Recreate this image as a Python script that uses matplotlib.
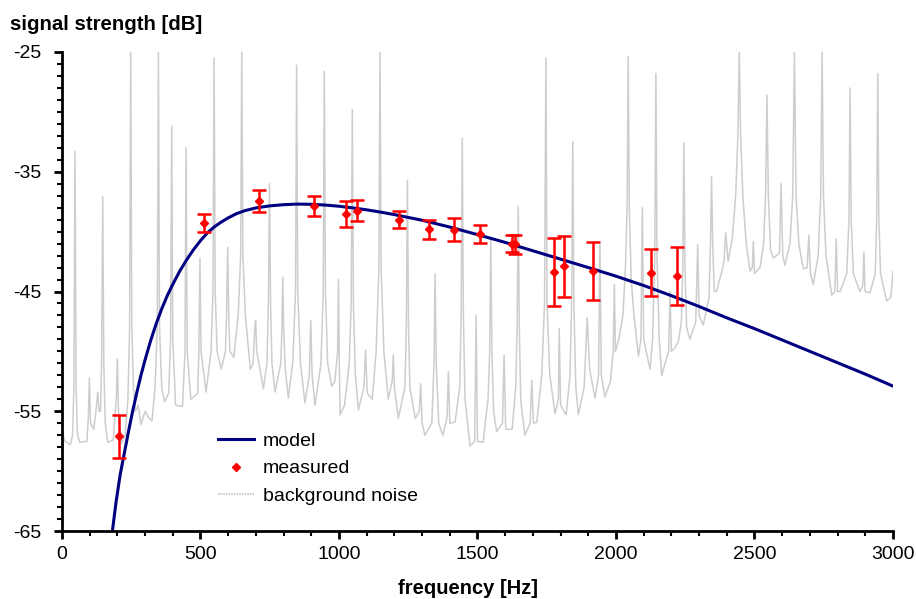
import numpy as np
import matplotlib
matplotlib.use("Agg")
import matplotlib.pyplot as plt
from matplotlib.ticker import MultipleLocator
from matplotlib.lines import Line2D

plt.rcParams['font.family'] = ['Liberation Sans', 'DejaVu Sans']
plt.rcParams['axes.unicode_minus'] = False

# measured points (frequency, level, error)
meas_f = [207, 512, 711, 911, 1026, 1064, 1215, 1324, 1415, 1508, 1623, 1636,
          1777, 1813, 1918, 2127, 2221]
meas_db = [-57.1, -39.3, -37.45, -37.85, -38.55, -38.25, -39.0, -39.8, -39.85,
           -40.2, -41.0, -41.05, -43.35, -42.9, -43.3, -43.45, -43.7]
meas_err = [1.8, 0.75, 0.9, 0.85, 1.08, 0.88, 0.7, 0.8, 0.95, 0.73, 0.73, 0.8,
            2.84, 2.53, 2.42, 1.96, 2.4]

# model curve
model_f = [182, 195, 210, 225, 240, 255, 270, 285, 300, 320, 340, 360, 380, 400,
           425, 450, 475, 500, 525, 550, 575, 600, 630, 660, 700, 750, 800, 850,
           900, 950, 1000, 1050, 1100, 1150, 1200, 1300, 1400, 1500, 1600, 1700,
           1800, 1900, 2000, 2100, 2200, 2300, 2400, 2500, 2600, 2700, 2800, 2900, 3000]
model_db = [-65.0, -62.6, -60.3, -58.5, -56.7, -55.0, -53.45, -52.0, -50.7, -49.1,
            -47.7, -46.45, -45.35, -44.4, -43.3, -42.35, -41.5, -40.75, -40.1,
            -39.6, -39.2, -38.85, -38.5, -38.25, -38.02, -37.85, -37.75, -37.7,
            -37.72, -37.78, -37.88, -38.02, -38.18, -38.37, -38.58, -39.05, -39.62,
            -40.25, -40.9, -41.6, -42.3, -43.0, -43.72, -44.5, -45.35, -46.25,
            -47.2, -48.1, -49.05, -50.0, -50.95, -51.9, -52.9]

# background noise spectrum (frequency, level)
noise_pts = [
    (0, -56.5), (10, -57.5), (30, -57.8), (38, -57), (43, -53), (47, -33.3), (51, -53),
    (56, -57), (65, -57.6), (90, -57.5), (95, -55.5), (99, -52.2), (103, -56), (115, -56.5),
    (125, -54.5), (129, -53.4), (134, -55), (139, -55), (143, -51), (147, -37.1), (151, -51),
    (156, -56), (165, -57.6), (185, -57.4), (196, -54), (200, -50.6), (204, -55), (215, -57.7),
    (228, -57), (238, -54), (244, -48), (248, -25), (252, -48), (258, -53), (265, -55),
    (275, -54.5), (285, -56.1), (300, -55), (312, -55.5), (325, -55.8), (336, -53), (344, -48),
    (348, -25), (352, -48), (360, -53), (370, -54.2), (385, -53.5), (392, -49), (396, -31.2),
    (400, -49), (410, -54.5), (435, -54.6), (444, -50), (448, -33.0), (452, -50), (465, -54),
    (490, -53.5), (494, -50), (498, -42.2), (502, -50), (520, -53.4), (538, -50), (545, -45),
    (549, -25.5), (553, -45), (560, -50), (575, -51.5), (590, -50), (594, -47), (598, -41.3),
    (602, -47), (606, -50), (620, -50.5), (636, -47), (645, -42), (649, -25), (653, -42),
    (662, -47), (680, -51.5), (690, -51), (696, -48), (699, -47.4), (703, -50), (727, -53.1),
    (740, -51), (745, -46), (749, -36), (753, -46), (758, -51), (769, -53.4), (790, -51),
    (794, -48), (797, -43.8), (800, -48), (806, -51.5), (817, -53.9), (833, -51), (843, -45),
    (847, -26.1), (851, -45), (861, -51), (877, -54.3), (893, -52), (898, -47.4), (903, -52),
    (913, -54.5), (935, -51), (943, -45), (947, -26.6), (951, -45), (959, -51), (974, -52.9),
    (985, -52.5), (995, -50), (998, -44.0), (1001, -51), (1004, -55.3), (1020, -54.5),
    (1037, -51), (1044, -46), (1048, -29.8), (1052, -46), (1059, -52), (1070, -54.9),
    (1090, -53), (1096, -49.9), (1102, -53.5), (1120, -54), (1134, -50), (1144, -43),
    (1148, -25), (1152, -43), (1162, -50), (1178, -54), (1192, -52.5), (1196, -50.3),
    (1200, -53), (1214, -55.6), (1238, -53), (1243, -48), (1247, -35.7), (1251, -48),
    (1256, -53), (1275, -55.6), (1290, -55), (1295, -52.7), (1300, -56), (1310, -57.0),
    (1335, -56), (1343, -51), (1347, -43.5), (1351, -51), (1360, -56), (1375, -57),
    (1390, -55.5), (1395, -51.7), (1400, -56), (1419, -55.9), (1436, -53), (1441, -47),
    (1445, -32.2), (1449, -47), (1455, -54), (1473, -57.9), (1490, -57.5), (1495, -47.0),
    (1500, -57.5), (1520, -57.6), (1538, -54), (1544, -50), (1548, -40.6), (1552, -50),
    (1558, -55), (1569, -56.7), (1590, -56), (1596, -50.3), (1602, -56.5), (1625, -56.5),
    (1638, -53), (1643, -48), (1647, -37.9), (1651, -48), (1656, -54), (1671, -57.0),
    (1690, -56), (1696, -52.4), (1702, -56), (1714, -55.9), (1732, -52), (1742, -46),
    (1747, -25.5), (1751, -46), (1761, -52), (1780, -55.2), (1792, -54), (1795, -48.1),
    (1800, -54.5), (1820, -55.3), (1834, -52), (1840, -46), (1844, -32.5), (1848, -46),
    (1855, -53), (1864, -55.3), (1885, -53), (1896, -47.2), (1905, -51.5), (1924, -53.9),
    (1937, -52), (1942, -41.1), (1947, -52), (1960, -53.8), (1980, -52.5), (1990, -50),
    (1994, -44.4), (1998, -50), (2010, -49), (2025, -47), (2034, -43), (2040, -38),
    (2044, -25.4), (2048, -38), (2055, -44), (2065, -47), (2081, -50.4), (2090, -49),
    (2095, -38.0), (2100, -49), (2123, -51.5), (2132, -49), (2140, -42), (2144, -26.8),
    (2148, -42), (2156, -49), (2165, -52.0), (2190, -50), (2195, -45.0), (2200, -50),
    (2213, -49.7), (2225, -49.2), (2236, -47.5), (2241, -43), (2245, -32.6), (2249, -43),
    (2255, -48), (2267, -49.0), (2288, -47.5), (2295, -41.1), (2300, -47), (2315, -47.8),
    (2336, -45.5), (2341, -41), (2345, -35.4), (2349, -41), (2355, -45), (2363, -45.0),
    (2380, -43.5), (2390, -42.5), (2396, -40.1), (2405, -42.5), (2420, -40.5), (2432, -37),
    (2440, -32), (2445, -25), (2450, -32), (2458, -37), (2470, -41), (2484, -43.3),
    (2492, -43), (2496, -40.8), (2500, -43.5), (2520, -43), (2533, -41), (2540, -37),
    (2545, -28.6), (2550, -37), (2558, -41.5), (2568, -42.2), (2590, -41.8), (2596, -36.0),
    (2602, -42), (2610, -42.8), (2628, -41), (2638, -37), (2644, -25), (2650, -37),
    (2660, -41), (2676, -43.1), (2690, -43), (2696, -40.3), (2702, -43.5), (2712, -44.4),
    (2730, -42), (2739, -37), (2744, -25), (2749, -37), (2758, -42), (2779, -45.3),
    (2790, -45), (2795, -40.6), (2800, -45), (2809, -45.0), (2833, -43.5), (2841, -39),
    (2845, -28.0), (2849, -39), (2857, -43.5), (2880, -45), (2891, -44.5), (2895, -41.7),
    (2899, -45), (2917, -45.1), (2936, -43.5), (2941, -39), (2945, -26.8), (2949, -39),
    (2955, -43.5), (2977, -45.8), (2992, -45.5), (3000, -43.3),
]
noise_f = [p[0] for p in noise_pts]
noise_db = [p[1] for p in noise_pts]

fig = plt.figure(figsize=(9.16, 5.99), dpi=100)
ax = fig.add_axes([62/916, 68/599, 831/916, 479/599])

ax.plot(noise_f, noise_db, color='#cdcdcd', lw=1.1, zorder=1)
ax.plot(model_f, model_db, color='#000080', lw=2.2, zorder=2)
ax.errorbar(meas_f, meas_db, yerr=meas_err, fmt='D', color='red', ms=4.5,
            ecolor='red', elinewidth=1.8, capsize=5, capthick=1.8, zorder=3)

ax.set_xlim(0, 3000)
ax.set_ylim(-65, -25)
ax.set_yticks([-25, -35, -45, -55, -65])
ax.set_xticks(np.arange(0, 3001, 500))
ax.xaxis.set_minor_locator(MultipleLocator(100))
ax.yaxis.set_minor_locator(MultipleLocator(1))

for s in ['top', 'right']:
    ax.spines[s].set_visible(False)
for s in ['left', 'bottom']:
    ax.spines[s].set_linewidth(2)
ax.tick_params(which='major', direction='out', length=6, width=2, labelsize=14)
ax.tick_params(axis='y', which='major', pad=9)
ax.tick_params(axis='x', which='major', pad=5)
ax.tick_params(which='minor', direction='out', length=3.5, width=1.5)

fig.text(468/916, 1 - 588/599, 'frequency [Hz]', fontsize=14.5,
         fontweight='bold', ha='center', va='center')
fig.text(10/916, 1 - 25/599, 'signal strength [dB]', fontsize=14.7,
         fontweight='bold', ha='left', va='center')

handles = [Line2D([], [], color='#000080', lw=2.2),
           Line2D([], [], ls='none', marker='D', color='red', ms=4.5),
           Line2D([], [], color='#c4c4c4', lw=1.2, ls=(0, (1, 0.6)))]
ax.legend(handles, ['model', 'measured', 'background noise'], loc='upper left',
          bbox_to_anchor=(0.176, 0.226), frameon=False, fontsize=14,
          handlelength=1.85, handletextpad=0.45, labelspacing=0.5, borderpad=0)

fig.savefig('out.png', dpi=100)
